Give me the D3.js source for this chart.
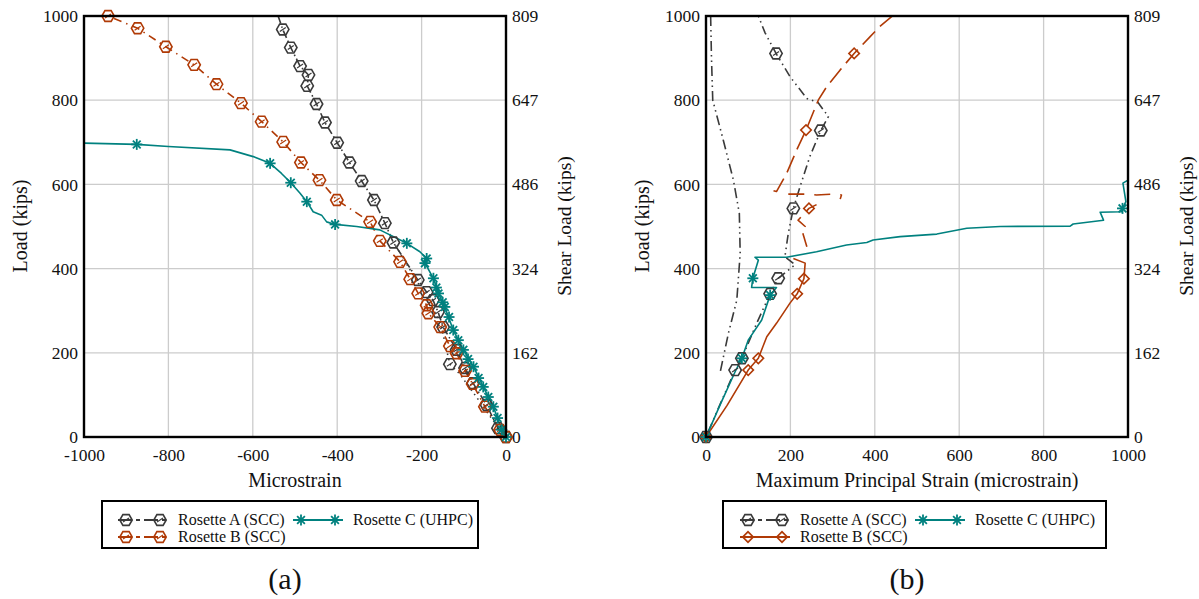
<!DOCTYPE html>
<html><head><meta charset="utf-8">
<script src="https://cdn.jsdelivr.net/npm/d3@7"></script>
<style>body{margin:0;background:#fff}svg{display:block}</style>
</head><body><svg id="c" width="1199" height="599" font-family="'Liberation Serif', 'Times New Roman', Times, 'DejaVu Serif', serif"></svg>
<script>
// ---------- DATA ----------
const loadTicks = [0, 200, 400, 600, 800, 1000];
const shearTicks = [0, 162, 324, 486, 647, 809];
const xTicksA = [-1000, -800, -600, -400, -200, 0];
const xTicksB = [0, 200, 400, 600, 800, 1000];
const seriesNames = ["Rosette A (SCC)", "Rosette B (SCC)", "Rosette C (UHPC)"];

// Panel (a): [microstrain, load]
const aRosetteA = [[-540,1000],[-529,968],[-510,925],[-488,881],[-468,860],[-471,834],[-449,791],[-429,747],[-400,699],[-371,652],[-342,608],[-313,563],[-287,508],[-267,462],[-209,373],[-188,344],[-173,325],[-161,297],[-149,261],[-117,207],[-97,164],[-78,128],[-46,76],[-19,21],[0,0]];
const aRosetteA2 = [[-262,455],[-235,410],[-205,360],[-180,318],[-155,270],[-133,173],[-110,150],[-70,95],[-35,45],[0,0]];
const aRosetteAMarkers = [[-529,968],[-510,925],[-488,881],[-468,860],[-471,834],[-449,791],[-429,747],[-400,699],[-371,652],[-342,608],[-313,563],[-287,508],[-267,462],[-209,373],[-188,344],[-173,325],[-161,297],[-149,261],[-133,173],[-117,207],[-97,164],[-78,128],[-46,76],[-19,21],[0,0]];
const aRosetteB = [[-943,1000],[-873,971],[-806,927],[-739,884],[-686,838],[-628,793],[-579,749],[-528,701],[-486,652],[-442,610],[-401,563],[-322,511],[-299,466],[-251,416],[-227,375],[-208,341],[-188,313],[-184,294],[-156,261],[-133,216],[-117,199],[-97,157],[-79,126],[-50,72],[-14,17],[0,0]];
const aRosetteC = [[-1000,698],[-875,695],[-800,690],[-654,682],[-599,666],[-559,650],[-532,626],[-510,604],[-488,579],[-472,559],[-457,535],[-437,527],[-425,511],[-405,505],[-354,500],[-299,492],[-235,460],[-204,440],[-188,424],[-192,413],[-172,377],[-160,341],[-145,309],[-125,254],[-101,207],[-77,167],[-54,119],[-30,72],[-10,17],[0,0]];
const aRosetteCMarkers = [[-875,695],[-559,650],[-510,604],[-472,559],[-405,505],[-235,460],[-188,424],[-192,413],[-172,377],[-165,355],[-160,341],[-150,320],[-145,309],[-135,285],[-125,254],[-113,230],[-101,207],[-90,185],[-77,167],[-65,140],[-54,119],[-42,95],[-30,72],[-20,45],[-10,17],[0,0]];

// Panel (b): [max principal strain, load]
const bRosetteA1 = [[11,1000],[13,900],[16,800],[41,705],[65,610],[79,531],[81,436],[73,325],[53,246],[33,151]];
const bRosetteA2 = [[124,1000],[140,960],[166,911],[199,856],[239,804],[265,795],[290,761],[272,728],[246,666],[223,595],[207,543],[195,484],[187,428],[211,409],[171,377],[152,340],[120,270],[85,187],[69,159],[30,70],[0,0]];
const bRosetteAMarkers = [[166,911],[272,728],[207,543],[171,377],[152,340],[85,187],[69,159],[0,0]];
const bRosetteBLower = [[0,0],[50,75],[100,159],[124,187],[144,238],[167,270],[199,318],[216,340],[232,376],[235,413],[207,424]];
const bRosetteBMid = [[239,452],[227,492],[235,500],[218,515],[244,543],[262,552]];
const bRosetteBFlat = [[195,577],[240,577],[262,575],[300,577],[321,575],[318,565]];
const bRosetteBUpper = [[160,585],[167,583],[191,626],[215,682],[237,729],[266,800],[286,832],[318,872],[351,911],[389,951],[412,975],[444,1002]];
const bRosetteBMarkers = [[0,0],[100,159],[124,187],[216,340],[232,376],[244,543],[237,729],[351,911]];
const bRosetteC = [[0,0],[35,80],[69,155],[85,187],[100,230],[132,278],[152,337],[167,355],[108,355],[111,377],[124,420],[116,427],[191,427],[262,440],[333,456],[381,462],[396,468],[460,476],[547,482],[618,496],[697,500],[863,501],[870,506],[942,515],[934,534],[985,535],[987,543],[995,559],[988,603],[1000,610]];
const bRosetteCMarkers = [[0,0],[85,187],[152,337],[111,377],[987,543]];

// ---------- STYLE ----------
const FONT = "'Liberation Serif', 'Times New Roman', Times, 'DejaVu Serif', serif";
const colA = "#3a3a3a", colB = "#b03a06", colC = "#00817f";
const svg = d3.select("#c");

function hexPath(r){const p=[];for(let i=0;i<6;i++){const a=Math.PI/3*i;p.push([r*Math.cos(a),r*Math.sin(a)]);}return "M"+p.map(d=>d.join(",")).join("L")+"Z";}
function drawHex(g,x,y,color){
  g.append("path").attr("d",hexPath(6.2)).attr("transform",`translate(${x},${y})`).attr("fill","none").attr("stroke",color).attr("stroke-width",1.6);
  g.append("line").attr("x1",x-3).attr("y1",y+2).attr("x2",x+3).attr("y2",y-2).attr("stroke",color).attr("stroke-width",1.2);
}
function drawStar(g,x,y,color){
  const r=5.5;
  for(let i=0;i<4;i++){const a=Math.PI/4*i;g.append("line").attr("x1",x-r*Math.cos(a)).attr("y1",y-r*Math.sin(a)).attr("x2",x+r*Math.cos(a)).attr("y2",y+r*Math.sin(a)).attr("stroke",color).attr("stroke-width",1.8);}
}
function drawDiamond(g,x,y,color){
  g.append("path").attr("d",d3.symbol(d3.symbolSquare,55)()).attr("transform",`translate(${x},${y}) rotate(45)`).attr("fill","none").attr("stroke",color).attr("stroke-width",1.6);
}

function panel(opt){
  const x=d3.scaleLinear().domain(opt.xDomain).range([opt.x0,opt.x1]);
  const y=d3.scaleLinear().domain([0,1000]).range([437,16]);
  const y2=d3.scaleLinear().domain([0,809]).range([437,16]);
  const g=svg.append("g");
  // grid
  g.append("g").selectAll("line").data(opt.xTicks).join("line").attr("x1",d=>x(d)).attr("x2",d=>x(d)).attr("y1",16).attr("y2",437).attr("stroke","#cccccc").attr("stroke-width",1.3);
  g.append("g").selectAll("line").data(loadTicks).join("line").attr("y1",d=>y(d)).attr("y2",d=>y(d)).attr("x1",opt.x0).attr("x2",opt.x1).attr("stroke","#cccccc").attr("stroke-width",1.3);
  // axes
  const fmt=d=>String(d);
  const ax=g.append("g").attr("transform","translate(0,437)").call(d3.axisBottom(x).tickValues(opt.xTicks).tickSize(0).tickPadding(12).tickFormat(fmt));
  const ay=g.append("g").attr("transform",`translate(${opt.x0},0)`).call(d3.axisLeft(y).tickValues(loadTicks).tickSize(0).tickPadding(6).tickFormat(fmt));
  const ay2=g.append("g").attr("transform",`translate(${opt.x1},0)`).call(d3.axisRight(y2).tickValues(shearTicks).tickSize(0).tickPadding(6).tickFormat(fmt));
  [ax,ay,ay2].forEach(a=>{a.attr("font-family",FONT);a.select(".domain").remove();a.selectAll("text").attr("font-size",17.5).attr("font-family",FONT).attr("fill","#111");});
  const clip="clip"+opt.id;
  g.append("clipPath").attr("id",clip).append("rect").attr("x",opt.x0).attr("y",16).attr("width",opt.x1-opt.x0).attr("height",421);
  const pg=g.append("g").attr("clip-path",`url(#${clip})`);
  const line=d3.line().x(d=>x(d[0])).y(d=>y(d[1]));
  opt.lines.forEach(s=>{pg.append("path").datum(s.data).attr("d",line).attr("fill","none").attr("stroke",s.color).attr("stroke-width",s.w||1.6).attr("stroke-dasharray",s.dash||null).attr("stroke-linejoin","round");});
  const mg=g.append("g");
  opt.markers.forEach(m=>{m.data.forEach(d=>m.fn(mg,x(d[0]),y(d[1]),m.color));});
  // frame
  g.append("rect").attr("x",opt.x0).attr("y",16).attr("width",opt.x1-opt.x0).attr("height",421).attr("fill","none").attr("stroke","#000").attr("stroke-width",2.4);
  // titles
  const T=(sel)=>sel.attr("font-family",FONT).attr("fill","#111");
  T(g.append("text").attr("x",(opt.x0+opt.x1)/2).attr("y",487).attr("text-anchor","middle").attr("font-size",20).text(opt.xTitle));
  T(g.append("text").attr("transform",`translate(${opt.x0-57},226) rotate(-90)`).attr("text-anchor","middle").attr("font-size",20).text("Load (kips)"));
  T(g.append("text").attr("transform",`translate(${opt.x1+65},226) rotate(-90)`).attr("text-anchor","middle").attr("font-size",19.5).text("Shear Load (kips)"));
  T(g.append("text").attr("x",(opt.x0+opt.x1)/2-10).attr("y",589).attr("text-anchor","middle").attr("font-size",30).text(opt.label));
  // legend
  const lg=g.append("g");
  lg.append("rect").attr("x",opt.lx).attr("y",501).attr("width",opt.lw).attr("height",47).attr("fill","#fff").attr("stroke","#000").attr("stroke-width",2);
  opt.legend.forEach(e=>{
    lg.append("line").attr("x1",e.x).attr("x2",e.x+50).attr("y1",e.y).attr("y2",e.y).attr("stroke",e.color).attr("stroke-width",2).attr("stroke-dasharray",e.dash||null);
    e.fn(lg,e.x+8,e.y,e.color);e.fn(lg,e.x+42,e.y,e.color);
    T(lg.append("text").attr("x",e.x+60).attr("y",e.y+5).attr("font-size",16).text(e.name));
  });
}

panel({id:"a",x0:84,x1:506,xDomain:[-1000,0],xTicks:xTicksA,xTitle:"Microstrain",label:"(a)",lx:102,lw:376,
  lines:[
    {data:aRosetteA2,color:colA,dash:"1.5,4",w:1.6},
    {data:aRosetteB,color:colB,dash:"1.5,5,8,5",w:1.6},
    {data:aRosetteA,color:colA,dash:"8,3,1.5,3",w:1.6},
    {data:aRosetteC,color:colC,w:1.6}],
  markers:[
    {data:aRosetteAMarkers,color:colA,fn:drawHex},
    {data:aRosetteB,color:colB,fn:drawHex},
    {data:aRosetteCMarkers,color:colC,fn:drawStar}],
  legend:[
    {x:118,y:520,color:colA,dash:"14,4,4,4",fn:drawHex,name:seriesNames[0]},
    {x:118,y:537,color:colB,dash:"14,4,4,4",fn:drawHex,name:seriesNames[1]},
    {x:293,y:520,color:colC,fn:drawStar,name:seriesNames[2]}]
});

panel({id:"b",x0:706,x1:1128,xDomain:[0,1000],xTicks:xTicksB,xTitle:"Maximum Principal Strain (microstrain)",label:"(b)",lx:723,lw:383,
  lines:[
    {data:bRosetteA1,color:colA,dash:"10,4,1.5,4,1.5,4",w:1.6},
    {data:bRosetteA2,color:colA,dash:"1.5,4,1.5,4,9,4",w:1.6},
    {data:bRosetteBLower,color:colB,w:1.6},
    {data:bRosetteBMid,color:colB,dash:"14,8",w:1.6},
    {data:bRosetteBFlat,color:colB,dash:"16,10",w:1.6},
    {data:bRosetteBUpper,color:colB,dash:"18,7",w:1.6},
    {data:bRosetteC,color:colC,w:1.6}],
  markers:[
    {data:bRosetteAMarkers,color:colA,fn:drawHex},
    {data:bRosetteBMarkers,color:colB,fn:drawDiamond},
    {data:bRosetteCMarkers,color:colC,fn:drawStar}],
  legend:[
    {x:740,y:520,color:colA,dash:"14,4,4,4",fn:drawHex,name:seriesNames[0]},
    {x:740,y:537,color:colB,fn:drawDiamond,name:seriesNames[1]},
    {x:915,y:520,color:colC,fn:drawStar,name:seriesNames[2]}]
});
</script></body></html>
